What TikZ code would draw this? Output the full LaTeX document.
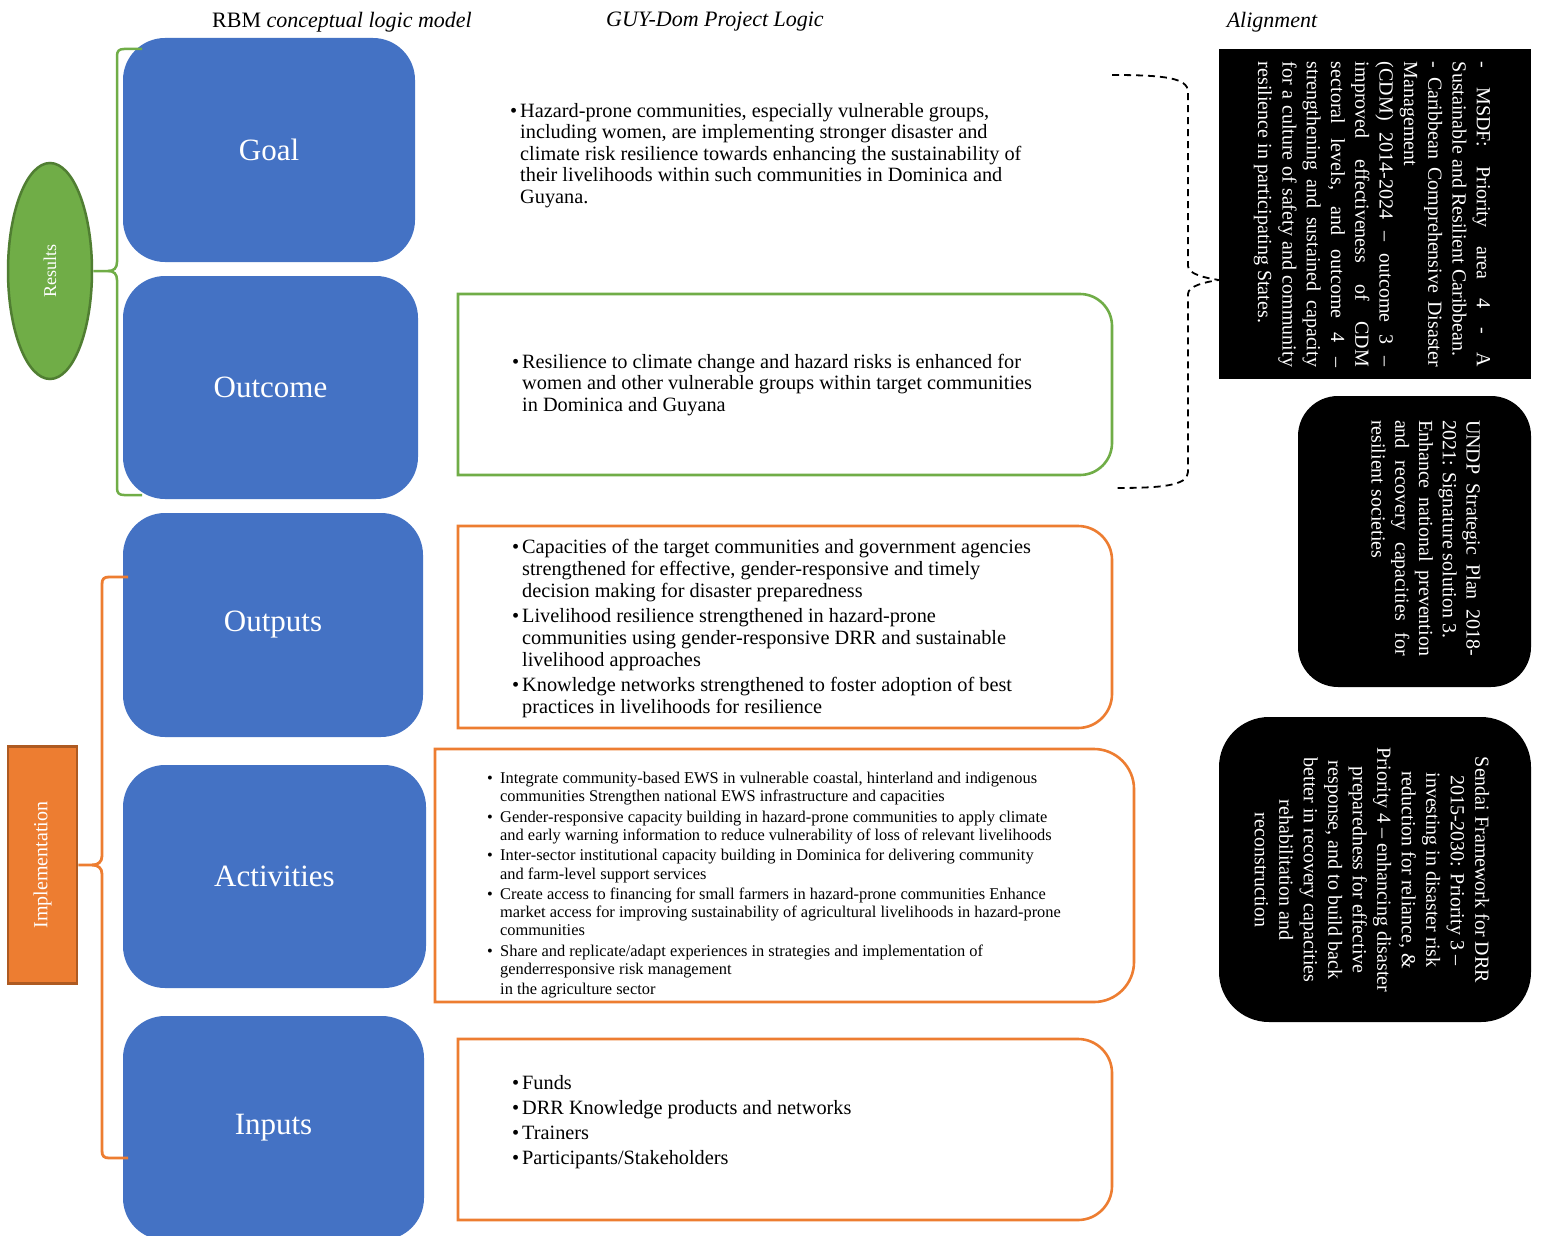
\documentclass[tikz,border=0pt]{standalone}
\usepackage{fontspec}
\setmainfont{Liberation Serif}
\usetikzlibrary{shapes.geometric,calc}
\definecolor{BoxBlue}{HTML}{4472C4}
\definecolor{ResGreen}{HTML}{70AD47}
\definecolor{ResGreenDark}{HTML}{507E32}
\definecolor{ImpOrange}{HTML}{ED7D31}
\definecolor{ImpOrangeDark}{HTML}{AE5A21}

% rows of text, stacked by hand
\newdimen\bulw \bulw=10pt
\newcommand{\stack}[2]{\vtop{\hsize=#1\relax #2}}
\newcommand{\bfirst}[1]{\hbox{\hbox to\bulw{\textbullet\hfil}#1}}
\newcommand{\bmore}[1]{\hbox{\hskip\bulw #1}}
\newcommand{\jrow}[1]{\hbox to\hsize{#1}}
\newcommand{\nrow}[1]{\hbox to\hsize{#1\hfil}}
\newcommand{\crow}[1]{\hbox to\hsize{\hfil#1\hfil}}
% frame with the right-hand corners rounded
\newcommand{\rightround}[3]{%
  \draw[#1] (#2.north west) -- ($(#2.north east)+(-#3,0)$)
    .. controls ($(#2.north east)+(-0.45*#3,0)$) and ($(#2.north east)+(0,0.45*#3)$) .. ($(#2.north east)+(0,#3)$)
    -- ($(#2.south east)+(0,-#3)$)
    .. controls ($(#2.south east)+(0,-0.45*#3)$) and ($(#2.south east)+(-0.45*#3,0)$) .. ($(#2.south east)+(-#3,0)$)
    -- (#2.south west) -- cycle;}

\tikzset{
  header/.style={font=\fontsize{22}{24}\selectfont\itshape},
  bluebox/.style={rectangle, rounded corners=42pt, fill=BoxBlue, text=white, inner sep=0pt, outer sep=0pt, font=\fontsize{31}{34}\selectfont},
  framebox/.style={rectangle, inner sep=0pt, outer sep=0pt},
  greenline/.style={draw=ResGreen, line width=2.6pt},
  orangeline/.style={draw=ImpOrange, line width=2.6pt},
  listtext/.style={anchor=north west, inner sep=0pt, font=\fontsize{20.3}{21.5}\selectfont},
  alignbox/.style={rectangle, fill=black, inner sep=0pt, outer sep=0pt},
  aligntext/.style={rotate=-90, text=white, inner sep=0pt},
  gbrace/.style={ResGreen, line width=2.5pt},
  obrace/.style={ImpOrange, line width=2.8pt},
  dashbrace/.style={black, line width=1.8pt, dash pattern=on 7pt off 5pt}
}

\begin{document}
\begin{tikzpicture}[x=1pt,y=-1pt]
  \clip (0,0) rectangle (1541,1236);
  \fill[white] (0,0) rectangle (1541,1236);

  % column heads
  \node[header] (rbmhead) at (342,22) {{\upshape RBM} conceptual logic model};
  \node[header] (projhead) at (715,22) {GUY-Dom Project Logic};
  \node[header] (alignhead) at (1272,22) {Alignment};

  % results / implementation labels
  \node[ellipse, rotate=90, minimum width=216pt, minimum height=84pt, fill=ResGreen, draw=ResGreenDark, line width=2.5pt, text=white, font=\fontsize{18}{20}\selectfont] (results) at (50,271) {Results};
  \node[rectangle, rotate=90, minimum width=237pt, minimum height=69pt, fill=ImpOrange, draw=ImpOrangeDark, line width=2.5pt, text=white, font=\fontsize{20}{22}\selectfont] (impl) at (42.5,865) {Implementation};

  % RBM logic model
  \node[bluebox, minimum width=292pt, minimum height=224pt] (goal) at (269,150) {Goal};
  \node[bluebox, minimum width=295pt, minimum height=223pt] (outcome) at (270.5,387.5) {Outcome};
  \node[bluebox, minimum width=300pt, minimum height=224pt] (outputs) at (273,625) {Outputs};
  \node[bluebox, minimum width=303pt, minimum height=223pt] (activities) at (274.5,876.5) {Activities};
  \node[bluebox, minimum width=301pt, minimum height=224pt] (inputs) at (273.5,1128) {Inputs};

  % braces
  \coordinate (gtop) at ($(goal.north west)+(19,11)$);
  \coordinate (gbot) at ($(outcome.south west)+(19,-4)$);
  \coordinate (gtip) at (108,271);
  \draw[gbrace] (results.south) -- (gtip) .. controls (114,271) and (117,268) .. (117,262) -- (117,56) .. controls (117,51) and (119,49) .. (124,49) -- (gtop);
  \draw[gbrace] (gtip) .. controls (114,271) and (117,274) .. (117,280) -- (117,488) .. controls (117,493) and (119,495) .. (124,495) -- (gbot);
  \coordinate (otop) at ($(outputs.north west)+(5,64)$);
  \coordinate (obot) at ($(inputs.north west)+(5,142)$);
  \coordinate (otip) at (92,865);
  \draw[obrace] (impl.south) -- (otip) .. controls (98,865) and (102,862) .. (102,856) -- (102,584) .. controls (102,579) and (104,577) .. (109,577) -- (otop);
  \draw[obrace] (otip) .. controls (98,865) and (102,868) .. (102,874) -- (102,1151) .. controls (102,1156) and (104,1158) .. (109,1158) -- (obot);

  % project logic
  \node[listtext] (goaltext) at (510,103) {\stack{600pt}{%
    \bfirst{Hazard-prone communities, especially vulnerable groups,}
    \bmore{including women, are implementing stronger disaster and}
    \bmore{climate risk resilience towards enhancing the sustainability of}
    \bmore{their livelihoods within such communities in Dominica and}
    \bmore{Guyana.}}};

  \node[framebox, minimum width=654pt, minimum height=181pt] (outbox) at (785,384.5) {};
  \rightround{greenline}{outbox}{32}
  \node[listtext] (outtext) at (512,354) {\stack{600pt}{%
    \bfirst{Resilience to climate change and hazard risks is enhanced for}
    \bmore{women and other vulnerable groups within target communities}
    \bmore{in Dominica and Guyana}}};

  \node[framebox, minimum width=654pt, minimum height=202pt] (outputsbox) at (785,627) {};
  \rightround{orangeline}{outputsbox}{34}
  \node[listtext, font=\fontsize{20.3}{22}\selectfont] (outputstext) at (512,539) {\stack{600pt}{%
    \bfirst{Capacities of the target communities and government agencies}
    \bmore{strengthened for effective, gender-responsive and timely}
    \bmore{decision making for disaster preparedness}\vskip3pt
    \bfirst{Livelihood resilience strengthened in hazard-prone}
    \bmore{communities using gender-responsive DRR and sustainable}
    \bmore{livelihood approaches}\vskip3pt
    \bfirst{Knowledge networks strengthened to foster adoption of best}
    \bmore{practices in livelihoods for resilience}}};

  \node[framebox, minimum width=699pt, minimum height=253pt] (actbox) at (784.5,875.5) {};
  \rightround{orangeline}{actbox}{40}
  \node[listtext, font=\fontsize{16.4}{18.3}\selectfont] (acttext) at (487,772) {\stack{640pt}{\bulw=13pt
    \bfirst{Integrate community-based EWS in vulnerable coastal, hinterland and indigenous}
    \bmore{communities Strengthen national EWS infrastructure and capacities}\vskip2pt
    \bfirst{Gender-responsive capacity building in hazard-prone communities to apply climate}
    \bmore{and early warning information to reduce vulnerability of loss of relevant livelihoods}\vskip2pt
    \bfirst{Inter-sector institutional capacity building in Dominica for delivering community}
    \bmore{and farm-level support services}\vskip2pt
    \bfirst{Create access to financing for small farmers in hazard-prone communities Enhance}
    \bmore{market access for improving sustainability of agricultural livelihoods in hazard-prone}
    \bmore{communities}\vskip2pt
    \bfirst{Share and replicate/adapt experiences in strategies and implementation of}
    \bmore{genderresponsive risk management}\vskip2pt
    \bmore{in the agriculture sector}}};

  \node[framebox, minimum width=654pt, minimum height=181pt] (inbox) at (785,1129.5) {};
  \rightround{orangeline}{inbox}{34}
  \node[listtext, font=\fontsize{20.3}{25}\selectfont] (intext) at (512,1075) {\stack{600pt}{%
    \bfirst{Funds}
    \bfirst{DRR Knowledge products and networks}
    \bfirst{Trainers}
    \bfirst{Participants/Stakeholders}}};

  % alignment
  \node[alignbox, minimum width=312pt, minimum height=330pt] (msdf) at (1375,214) {};
  \node[alignbox, rounded corners=40pt, minimum width=233pt, minimum height=291pt] (undp) at (1414.5,541.5) {};
  \node[alignbox, rounded corners=50pt, minimum width=312pt, minimum height=305pt] (sendai) at (1375,869.5) {};

  \node[aligntext, font=\fontsize{20}{24.3}\selectfont] (msdftext) at (1372,214.5) {\stack{305pt}{%
    \jrow{- MSDF: Priority area 4 - A}
    \nrow{Sustainable and Resilient Caribbean.}
    \jrow{- Caribbean Comprehensive Disaster}
    \nrow{Management}
    \jrow{(CDM) 2014-2024 – outcome 3 –}
    \jrow{improved effectiveness of CDM}
    \jrow{sectoral levels, and outcome 4 –}
    \jrow{strengthening and sustained capacity}
    \jrow{for a culture of safety and community}
    \nrow{resilience in participating States.}}};
  \node[aligntext, font=\fontsize{20}{23.75}\selectfont] (undptext) at (1426,538) {\stack{236pt}{%
    \jrow{UNDP Strategic Plan 2018-}
    \nrow{2021: Signature solution 3.}
    \jrow{Enhance national prevention}
    \jrow{and recovery capacities for}
    \nrow{resilient societies}}};
  \node[aligntext, font=\fontsize{20}{24.5}\selectfont] (sendaitext) at (1372,870) {\stack{300pt}{%
    \crow{Sendai Framework for DRR}
    \crow{2015-2030: Priority 3 –}
    \crow{investing in disaster risk}
    \crow{reduction for reliance, \&}
    \crow{Priority 4 – enhancing disaster}
    \crow{preparedness for effective}
    \crow{response, and to build back}
    \crow{better in recovery capacities}
    \crow{rehabilitation and}
    \crow{reconstruction}}};

  % goal and outcome align with the MSDF
  \coordinate (dtop) at (1112,75);
  \coordinate (dbot) at (1115,488);
  \coordinate (dtip) at ($(msdf.north west)!0.7!(msdf.south west)$);
  \draw[dashbrace] (dtop) .. controls (1165,75) and (1188,78) .. (1188,92) -- (1188,266) .. controls (1188,274) and (1205,278) .. (dtip) .. controls (1205,282) and (1188,286) .. (1188,294) -- (1188,472) .. controls (1188,486) and (1160,488) .. (dbot);
\end{tikzpicture}
\end{document}
